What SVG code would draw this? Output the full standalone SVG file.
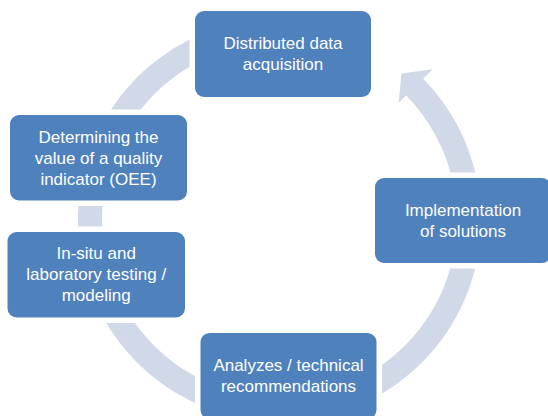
<svg xmlns="http://www.w3.org/2000/svg" width="548" height="416" viewBox="0 0 548 416">
  <style>
    .box { fill: #4F81BD; stroke: #FFFFFF; stroke-width: 11; paint-order: stroke fill; }
    .lbl { fill: #FFFFFF; font-family: "Liberation Sans", Arial, sans-serif; font-size: 17px; text-anchor: middle; }
    .ring { fill: #D1D8E7; stroke: none; }
  </style>
  <rect width="548" height="416" fill="#FFFFFF"/>
  <g id="connectors">
    <path class="ring" d="M 244.51 21.56 A 201.5 201.5 0 1 0 423.22 78.77 L 432.85 69.3 L 401.5 73.5 L 398.61 102.95 L 406.1 95.59 A 177.5 177.5 0 1 1 248.68 45.2 Z"/>
  </g>
  <g id="node-distributed">
    <rect class="box" x="195" y="11" width="176" height="86" rx="9" ry="9"/>
    <text class="lbl" x="283" y="49.2">Distributed data</text>
    <text class="lbl" x="283" y="70.2">acquisition</text>
  </g>
  <g id="node-implementation">
    <rect class="box" x="375" y="178" width="176" height="85" rx="9" ry="9"/>
    <text class="lbl" x="463" y="215.7">Implementation</text>
    <text class="lbl" x="463" y="236.7">of solutions</text>
  </g>
  <g id="node-analyzes">
    <rect class="box" x="200.5" y="333" width="176" height="86" rx="9" ry="9"/>
    <text class="lbl" x="288.5" y="371.2">Analyzes / technical</text>
    <text class="lbl" x="288.5" y="392.2">recommendations</text>
  </g>
  <g id="node-insitu">
    <rect class="box" x="7.5" y="232" width="177.5" height="85.5" rx="9" ry="9"/>
    <text class="lbl" x="96.2" y="259.2">In-situ and</text>
    <text class="lbl" x="96.2" y="280.2">laboratory testing /</text>
    <text class="lbl" x="96.2" y="301.2">modeling</text>
  </g>
  <g id="node-determining">
    <rect class="box" x="10" y="115" width="177" height="85.5" rx="9" ry="9"/>
    <text class="lbl" x="98.5" y="142.5">Determining the</text>
    <text class="lbl" x="98.5" y="163.5">value of a quality</text>
    <text class="lbl" x="98.5" y="184.5">indicator (OEE)</text>
  </g>
</svg>
